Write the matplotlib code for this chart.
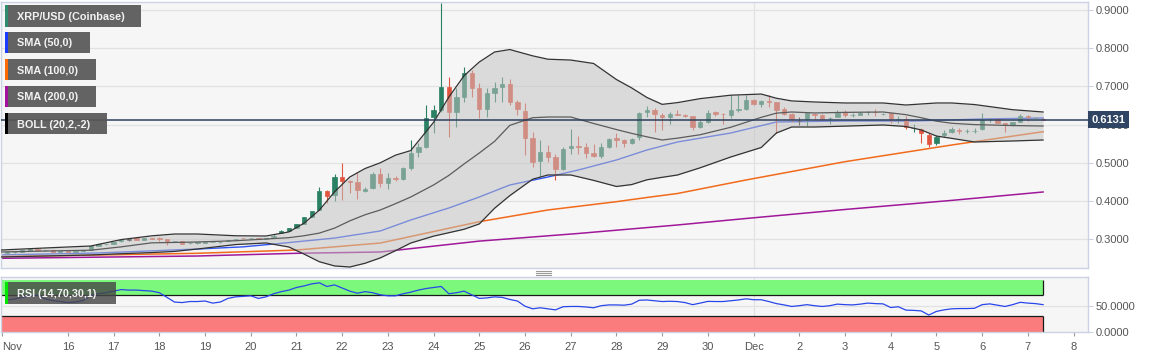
import numpy as np
import matplotlib
matplotlib.use("Agg")
import matplotlib.pyplot as plt
from matplotlib.patches import Rectangle, Polygon
from matplotlib.lines import Line2D
import matplotlib.transforms as mtransforms

plt.rcParams['font.family'] = ['Liberation Sans', 'DejaVu Sans']

# ---------------- data (4-hour candles; index 2 = 15 Nov 00:00) ----------------
OPEN = [.2650, .2660, .2670, .2705, .2755, .2712, .2715, .2675, .2690, .2668,
        .2690, .2726, .2830, .2866, .2880, .2940, .2990, .3020, .2990, .3015,
        .3022, .3012, .2945, .2953, .2893, .2895, .2912, .2925, .2920, .2945,
        .2998, .3025, .3020, .3030, .3015, .3049, .3171, .3215, .3300, .3398,
        .3590, .3764, .4271, .4157, .4620, .4533, .4489, .4271, .4332, .4698,
        .4480, .4602, .4567, .4864, .5291, .5414, .6199, .6382, .6984, .6330,
        .6723, .7351, .6958, .6408, .6827, .6984, .7063, .6592, .6356, .5649,
        .5047, .5283, .5152, .4838, .5388, .5440, .5414, .5257, .5178, .5414,
        .5649, .5597, .5518, .5675, .6330, .6382, .6251, .6199, .6290, .6251,
        .6225, .5937, .6068, .6330, .6278, .6251, .6390, .6408, .6644, .6540,
        .6618, .6592, .6408, .6278, .6094, .6147, .6278, .6251, .6165, .6199,
        .6330, .6245, .6251, .6320, .6335, .6272, .6304, .6140, .6147, .5905,
        .5885, .5728, .5518, .5728, .5806, .5859, .5825, .5825, .5885, .6140,
        .6147, .6042, .5990, .6068, .6225, .6165, .6150]
HIGH = [.2670, .2680, .2715, .2765, .2765, .2725, .2720, .2690, .2695, .2695,
        .2730, .2830, .2875, .2880, .2925, .2998, .3010, .3035, .3030, .3025,
        .3058, .3015, .2965, .2960, .2905, .2925, .2940, .2938, .2932, .2985,
        .3010, .3030, .3038, .3036, .3030, .3128, .3235, .3295, .3400, .3585,
        .3750, .4375, .4290, .4707, .4986, .4540, .4724, .4375, .4751, .4855,
        .4724, .4655, .4880, .5597, .5518, .6513, .6513, .9191, .7246, .6958,
        .7508, .7429, .7089, .6958, .7115, .7246, .7194, .6644, .6566, .5806,
        .5597, .5466, .5230, .5414, .5885, .5702, .5518, .5492, .5518, .5650,
        .5780, .5610, .5650, .6330, .6487, .6435, .6304, .6330, .6382, .6278,
        .6230, .6120, .6382, .6356, .6304, .6775, .6775, .6775, .6670, .6644,
        .6775, .6600, .6461, .6304, .6199, .6315, .6304, .6278, .6199, .6382,
        .6382, .6304, .6330, .6356, .6408, .6304, .6310, .6225, .6225, .6016,
        .5911, .5780, .5728, .5859, .5937, .5911, .5885, .5911, .6304, .6173,
        .6173, .6045, .6075, .6278, .6251, .6199, .6160]
LOW = [.2640, .2650, .2660, .2700, .2700, .2700, .2665, .2665, .2655, .2660,
       .2685, .2720, .2820, .2855, .2870, .2935, .2965, .2980, .2985, .3000,
       .2953, .2848, .2930, .2875, .2880, .2885, .2905, .2915, .2912, .2940,
       .2990, .3012, .3012, .3008, .3010, .3040, .3160, .3210, .3295, .3390,
       .3580, .3755, .3957, .4000, .4026, .4201, .4053, .4245, .4306, .4375,
       .4314, .4524, .4550, .4812, .5152, .5388, .5780, .6330, .5675, .5937,
       .6592, .6723, .6173, .6199, .6592, .6592, .6513, .6251, .5204, .4890,
       .4628, .5021, .4550, .4812, .5230, .5230, .5126, .5152, .5126, .5400,
       .5414, .5414, .5500, .5597, .6199, .5806, .5859, .6016, .6240, .6199,
       .5859, .5911, .6050, .6225, .6016, .6173, .6330, .6382, .6513, .6461,
       .6461, .5780, .6251, .6068, .5990, .5963, .6147, .6120, .6016, .6190,
       .6199, .6199, .6240, .6251, .6225, .6251, .6042, .6042, .5885, .5806,
       .5518, .5414, .5466, .5675, .5780, .5754, .5780, .5780, .5859, .6068,
       .6030, .5806, .5963, .6060, .6094, .6150, .6120]
CLOSE = [.2660, .2670, .2705, .2755, .2712, .2715, .2675, .2680, .2668, .2690,
         .2726, .2822, .2866, .2870, .2918, .2990, .2990, .2988, .3020, .3012,
         .3015, .2935, .2955, .2883, .2900, .2918, .2935, .2930, .2925, .2980,
         .3005, .3020, .3030, .3015, .3025, .3093, .3224, .3285, .3389, .3573,
         .3738, .4271, .4140, .4620, .4515, .4489, .4288, .4306, .4698, .4480,
         .4611, .4567, .4873, .5257, .5422, .6173, .6382, .6984, .6330, .6723,
         .7351, .6958, .6408, .6827, .6958, .7063, .6592, .6408, .5649, .5021,
         .5283, .5152, .4838, .5361, .5440, .5414, .5257, .5178, .5414, .5623,
         .5597, .5518, .5623, .6304, .6382, .6278, .6199, .6278, .6251, .6225,
         .5937, .6068, .6304, .6278, .6265, .6382, .6408, .6644, .6540, .6618,
         .6592, .6382, .6278, .6147, .6094, .6304, .6251, .6147, .6173, .6304,
         .6251, .6251, .6304, .6330, .6325, .6280, .6147, .6150, .5937, .5915,
         .5780, .5492, .5675, .5780, .5885, .5832, .5832, .5835, .6120, .6147,
         .6042, .6016, .6068, .6225, .6199, .6173, .6131]
RSI = [61, 63, 66, 69, 70, 63, 60, 58, 56, 57,
       60, 70, 73, 75, 78, 81, 80, 80, 79, 78,
       75, 66, 57, 56, 58, 58, 59, 55, 57, 64,
       67, 68, 69, 64, 67, 73, 77, 80, 85, 88,
       92, 94, 87, 90, 84, 78, 74, 77, 75, 71,
       69, 69, 73, 76, 80, 83, 85, 87, 73, 75,
       78, 71, 64, 65, 67, 66, 62, 59, 49, 44,
       46, 44, 42, 48, 48.5, 48.5, 47.5, 46, 50, 51.5,
       51.5, 51, 53, 60.5, 61, 59.5, 58, 58.5, 58, 56,
       52, 55, 58.3, 58, 58, 59.5, 61, 63.2, 61.5, 61.5,
       58, 54, 51.5, 48.5, 50, 52, 50, 48.5, 50, 53,
       52, 51.5, 53, 55, 54, 53.5, 46.5, 48, 41.5, 41,
       40, 32, 39, 42, 44, 44.5, 44.5, 45, 52, 53.5,
       51, 48.5, 52, 56.5, 55, 54, 52]

# Bollinger (20,2) read at sample candle indices
BB_IDX = [-1, 5, 11, 15, 19, 22, 25, 30, 34, 37, 39, 41, 43, 45, 47, 49, 51, 53,
          56, 58, 60, 62, 64, 66, 69, 71, 74, 77, 80, 82, 84, 86, 88, 91, 95, 99,
          101, 103, 106, 110, 115, 118, 120, 122, 124, 127, 132, 136]
BB_UP = [.2715, .2770, .2822, .2990, .3088, .3136, .3136, .3090, .3084, .3190,
         .3420, .3760, .4240, .4628, .4850, .5000, .5200, .5320, .6060, .6720,
         .7280, .7639, .7900, .7965, .7800, .7712, .7690, .7600, .7180, .6960,
         .6710, .6530, .6575, .6680, .6770, .6800, .6690, .6620, .6592, .6566,
         .6566, .6513, .6540, .6566, .6566, .6525, .6390, .6330]
BB_MID = [.2665, .2690, .2712, .2800, .2905, .2915, .2927, .2960, .3005, .3040,
          .3090, .3160, .3290, .3480, .3640, .3765, .3930, .4105, .4420, .4670,
          .4970, .5257, .5560, .5980, .6180, .6199, .6199, .6030, .5870, .5770,
          .5680, .5597, .5645, .5735, .5930, .6190, .6300, .6330, .6305, .6320,
          .6330, .6260, .6180, .6090, .6035, .6000, .5975, .5963]
BB_LO = [.2534, .2560, .2587, .2620, .2650, .2680, .2743, .2860, .2901, .2796,
         .2610, .2410, .2300, .2272, .2370, .2510, .2700, .2900, .3080, .3170,
         .3260, .3400, .3810, .4140, .4570, .4681, .4681, .4540, .4380, .4430,
         .4555, .4620, .4680, .4870, .5152, .5400, .5780, .5937, .5937, .5960,
         .5990, .5950, .5860, .5700, .5640, .5545, .5571, .5597]

SMA50_IDX = [-1, 12, 25, 31, 36, 43, 49, 53, 58, 62, 66, 71, 75, 80, 84, 88, 95, 101, 110, 119, 128, 136]
SMA50 = [.2587, .2639, .2743, .2800, .2892, .3030, .3215, .3503, .3817, .4105, .4419,
         .4628, .4812, .5074, .5335, .5544, .5780, .6068, .6094, .6094, .6147, .6173]
SMA100_IDX = [-1, 25, 38, 49, 62, 71, 80, 84, 88, 97, 110, 124, 136]
SMA100 = [.2543, .2631, .2717, .2900, .3458, .3765, .3982, .4092, .4196, .4550, .5029, .5466, .5814]
SMA200_IDX = [-1, 25, 38, 49, 62, 75, 88, 97, 110, 124, 136]
SMA200 = [.2500, .2560, .2631, .2665, .2950, .3150, .3372, .3542, .3778, .4016, .4236]

LAST_PRICE = 0.6131
PRICE_TICKS = [0.3, 0.4, 0.5, 0.6, 0.7, 0.8, 0.9]
RSI_TICKS = [0, 50]
RSI_HI, RSI_LO = 70, 30
DAY_TICKS = list(range(1, 24))  # days after 15 Nov
DAY_LABELS = ['16', '17', '18', '19', '20', '21', '22', '23', '24', '25', '26', '27',
              '28', '29', '30', 'Dec', '2', '3', '4', '5', '6', '7', '8']
LEGEND = [('XRP/USD (Coinbase)', '#2e8b6e'), ('SMA (50,0)', '#1a3cff'),
          ('SMA (100,0)', '#ff6a00'), ('SMA (200,0)', '#a3149e'),
          ('BOLL (20,2,-2)', '#000000')]
RSI_LEGEND = ('RSI (14,70,30,1)', '#00e600')


def to_t(idx):
    return (np.asarray(idx, dtype=float) - 2.0) / 6.0


# ---------------- figure ----------------
W, H = 1153, 359
fig = plt.figure(figsize=(W / 100, H / 100), dpi=100)
fig.patch.set_facecolor('white')


def fb(x0, y0, x1, y1):
    return [x0 / W, 1 - y1 / H, (x1 - x0) / W, (y1 - y0) / H]


ax = fig.add_axes(fb(1, 2, 1088, 268))
rx = fig.add_axes(fb(1, 277, 1088, 332), sharex=ax)

BG = '#f6f6f6'
SPINE = '#cbd2e4'
for a in (ax, rx):
    a.set_facecolor(BG)
    for s in a.spines.values():
        s.set_color(SPINE)
        s.set_linewidth(1.0)
    a.set_axisbelow(True)

XLIM = (-0.4638, 23.316)
ax.set_xlim(*XLIM)
ax.set_ylim(0.22461, 0.92094)
rx.set_ylim(-0.6, 105.2)

# grid
ax.set_yticks(PRICE_TICKS)
ax.set_yticklabels(['%.4f' % v for v in PRICE_TICKS])
ax.grid(axis='y', color='#e2e2e2', lw=0.9)
ax.axvline(16, color='#e2e2e2', lw=0.9, zorder=0.5)
rx.axvline(16, color='#e2e2e2', lw=0.9, zorder=0.5)
rx.axhline(50, color='#e2e2e2', lw=0.9, zorder=0.5)

t = to_t(np.arange(len(CLOSE)))
o = np.array(OPEN); h = np.array(HIGH); l = np.array(LOW); c = np.array(CLOSE)

# moving averages (under the band fill)
ax.plot(to_t(SMA50_IDX), SMA50, color='#2f52f2', lw=1.0, zorder=2)
ax.plot(to_t(SMA100_IDX), SMA100, color='#f26a1b', lw=1.1, zorder=2)
ax.plot(to_t(SMA200_IDX), SMA200, color='#a0189a', lw=1.1, zorder=2)

# candles
GREEN, RED, DOJI = '#2a8064', '#e0553f', '#2b2b2b'
cols = np.where(c > o, GREEN, np.where(c < o, RED, DOJI))
ax.vlines(t, l, h, colors=cols, lw=0.8, zorder=3)
body_lo = np.minimum(o, c)
body_h = np.maximum(np.abs(c - o), 0.0012)
ax.bar(t, body_h, bottom=body_lo, width=0.095, color=cols, edgecolor=cols,
       linewidth=0.5, zorder=3)

# bollinger
bt = to_t(BB_IDX)
ax.fill_between(bt, BB_LO, BB_UP, color='#c2c2c2', alpha=0.52, lw=0, zorder=4)
ax.plot(bt, BB_UP, color='#333333', lw=0.9, zorder=5)
ax.plot(bt, BB_LO, color='#333333', lw=0.9, zorder=5)
ax.plot(bt, BB_MID, color='#5c5c5c', lw=0.9, zorder=5)

# last price line + label
ax.axhline(LAST_PRICE, color='#2c3f5e', lw=1.1, zorder=6)
trans = mtransforms.blended_transform_factory(ax.transAxes, ax.transData)
ax.text(1.0 + 3.5 / 1087, LAST_PRICE, '%.4f' % LAST_PRICE, transform=trans,
        ha='left', va='center', color='white', fontsize=8, fontweight='bold',
        bbox=dict(boxstyle='square,pad=0.3', fc='#2f4563', ec='none'),
        clip_on=False, zorder=10)

ax.yaxis.tick_right()
ax.tick_params(axis='y', which='both', direction='out', length=3.6, width=0.8,
               color=SPINE, pad=2.2, labelsize=8, labelcolor='#555555')
ax.tick_params(axis='x', which='both', bottom=False, labelbottom=False, top=False)

# ---------------- RSI panel ----------------
t_last = t[-1]
rx.add_patch(Rectangle((XLIM[0] - 1, RSI_HI), t_last - XLIM[0] + 1, 100 - RSI_HI,
                       fc='#7cf97c', ec='none', zorder=1))
rx.add_patch(Rectangle((XLIM[0] - 1, 0), t_last - XLIM[0] + 1, RSI_LO,
                       fc='#fa7c7c', ec='none', zorder=1))
rx.hlines([RSI_HI, RSI_LO], XLIM[0] - 1, t_last, colors='#1a1a1a', lw=0.9, zorder=2)
rx.vlines([t_last, t_last], [RSI_HI, 0], [100, RSI_LO], colors='#1a1a1a', lw=0.9, zorder=2)
rx.plot(t, RSI, color='#2846ea', lw=0.9, zorder=3)

rx.yaxis.tick_right()
rx.set_yticks(RSI_TICKS)
rx.set_yticklabels(['%.4f' % v for v in RSI_TICKS])
rx.tick_params(axis='y', direction='out', length=3.6, width=0.8, color=SPINE,
               pad=2.2, labelsize=8, labelcolor='#555555')
rx.set_xticks([-0.44] + DAY_TICKS)
rx.set_xticklabels(['Nov'] + DAY_LABELS)
rx.tick_params(axis='x', direction='out', length=3, width=0.8, color='#9a9a9a',
               pad=4.5, labelsize=8, labelcolor='#555555')
rx.get_xticklabels()[0].set_ha('left')

# ---------------- legend boxes ----------------
def legend_box(x0, y0, x1, y1, label, strip, alpha=0.92, fc='#575757'):
    fig.add_artist(Rectangle((x0 / W, 1 - y1 / H), (x1 - x0) / W, (y1 - y0) / H,
                             transform=fig.transFigure, fc=fc, ec='none',
                             alpha=alpha, zorder=20))
    fig.add_artist(Rectangle((x0 / W, 1 - y1 / H), 3 / W, (y1 - y0) / H,
                             transform=fig.transFigure, fc=strip, ec='none', zorder=21))
    fig.text((x0 + 12) / W, 1 - ((y0 + y1) / 2) / H, label, color='#f2f2f2',
             fontsize=7.8, fontweight='bold', ha='left', va='center_baseline', zorder=22)

boxes = [(5, 5, 141, 27), (5, 32, 90, 53), (5, 59, 96, 80), (5, 86, 96, 107), (5, 113, 107, 134)]
for (x0, y0, x1, y1), (lab, col) in zip(boxes, LEGEND):
    legend_box(x0, y0, x1, y1, lab, col)
legend_box(5, 282, 116, 304, RSI_LEGEND[0], RSI_LEGEND[1], alpha=0.82, fc='#474747')

# splitter handle
for yy in (270.5, 272.5, 274.5):
    fig.add_artist(Line2D([536 / W, 551 / W], [1 - yy / H, 1 - yy / H],
                          transform=fig.transFigure, color='#9a9a9a', lw=0.8))

fig.savefig('out.png', dpi=100, facecolor='white')
